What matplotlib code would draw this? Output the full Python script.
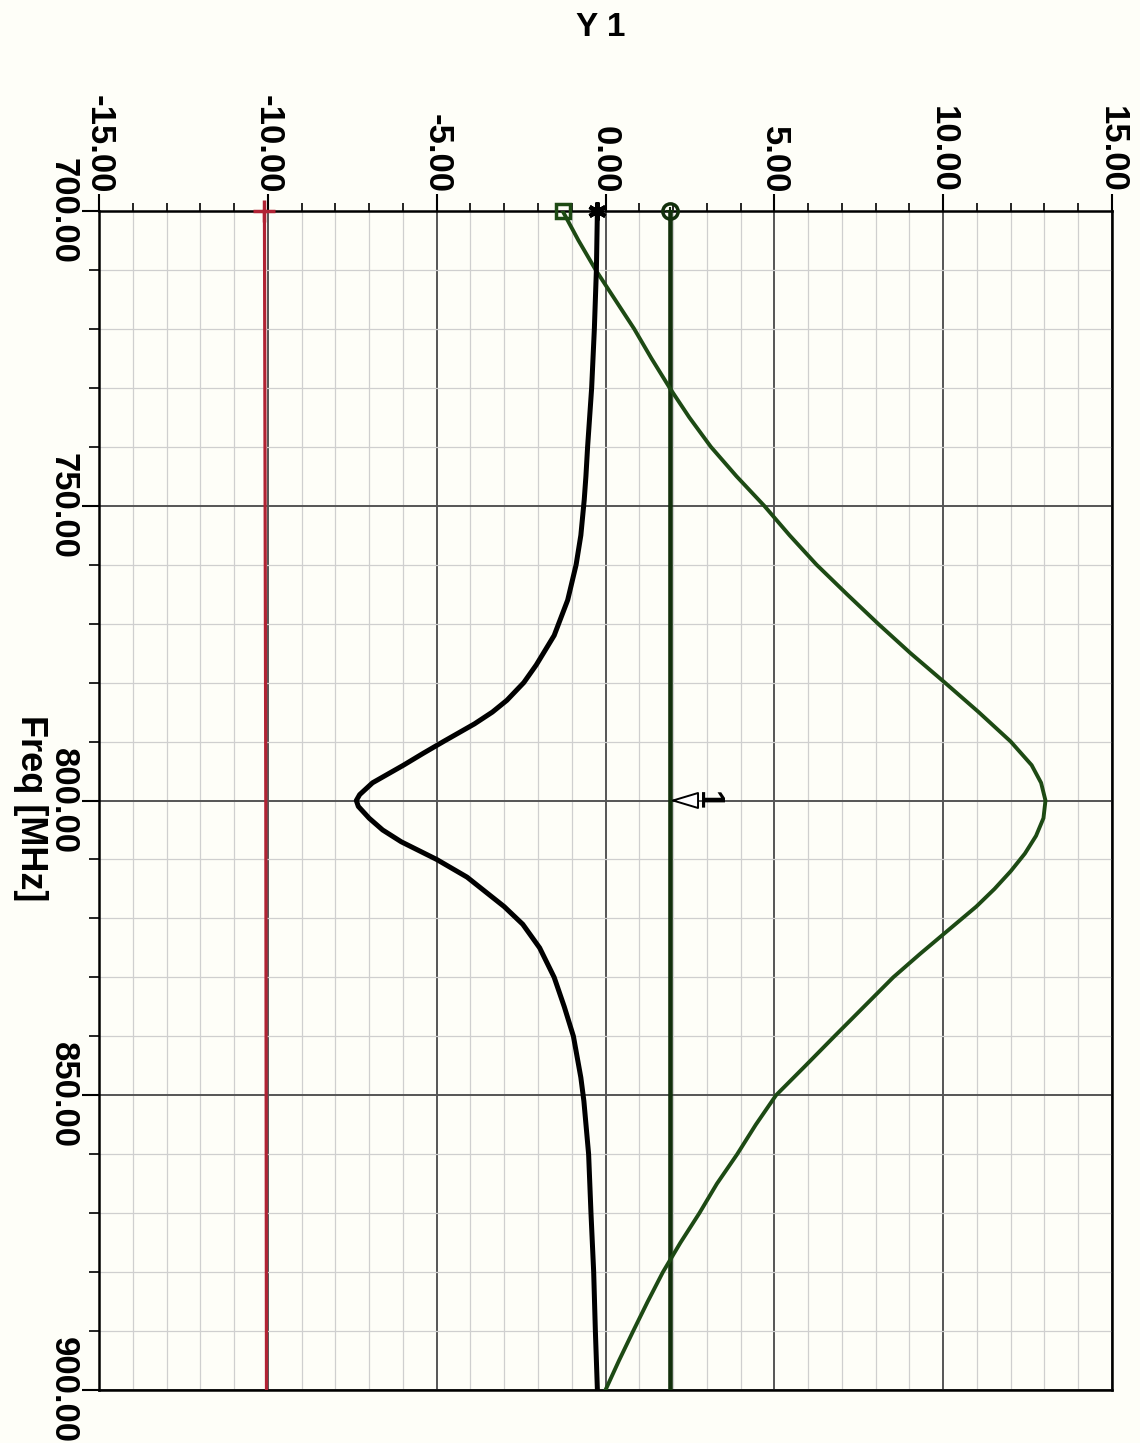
import numpy as np
import matplotlib
matplotlib.use("Agg")
import matplotlib.pyplot as plt
from matplotlib.ticker import MultipleLocator, FormatStrFormatter

# ---- data ----
freq_black = [700, 710, 720, 730, 740, 745, 749, 755, 760, 766, 772, 777, 780, 783,
              785, 787, 790, 792, 794, 797, 799, 800, 801, 803, 805, 807, 810, 813,
              818, 821, 825, 830, 835, 840, 847, 851, 860, 870, 880, 890, 900]
y_black = [-0.24, -0.27, -0.33, -0.41, -0.53, -0.58, -0.63, -0.73, -0.87, -1.12, -1.52,
           -2.05, -2.42, -2.92, -3.35, -3.88, -4.8, -5.4, -5.98, -6.9, -7.28, -7.38,
           -7.32, -7.0, -6.6, -6.05, -5.0, -4.1, -3.0, -2.45, -1.95, -1.52, -1.22,
           -0.95, -0.73, -0.64, -0.5, -0.43, -0.35, -0.3, -0.24]

freq_green = [700, 705, 710, 715, 720, 725, 730, 735, 740, 745, 750, 755, 760, 765,
              770, 775, 780, 785, 790, 794, 797, 800, 803, 806, 809, 812, 815, 818,
              822, 826, 830, 835, 840, 845, 850, 855, 860, 865, 870, 875, 880, 885,
              890, 895, 900]
y_green = [-1.27, -0.8, -0.29, 0.28, 0.85, 1.36, 1.9, 2.48, 3.12, 3.88, 4.7, 5.45,
           6.25, 7.15, 8.07, 9.03, 10.05, 11.05, 12.0, 12.62, 12.9, 13.03, 12.97, 12.75,
           12.42, 12.0, 11.52, 10.98, 10.15, 9.32, 8.52, 7.65, 6.78, 5.92, 5.05, 4.45,
           3.9, 3.3, 2.78, 2.22, 1.7, 1.25, 0.82, 0.4, 0.0]

freq_flat = [700, 750, 800, 850, 900]
y_circle = [1.9, 1.9, 1.9, 1.9, 1.9]
y_red = [-10.1, -10.08, -10.06, -10.05, -10.04]

marker_freq = 800
marker_val = 1.9

GREEN = "#1d4a14"
DKGREEN = "#12300c"
RED = "#b02334"

plt.rcParams['font.family'] = ['Liberation Sans', 'DejaVu Sans']
plt.rcParams['font.weight'] = 'bold'

fig = plt.figure(figsize=(11.4, 14.43), dpi=100)
fig.patch.set_facecolor("#fefef8")
ax = fig.add_axes([99/1140, 1-1390/1443, (1112-99)/1140, (1390-211)/1443])
ax.set_facecolor("#fefef8")

ax.plot(y_red, freq_flat, color=RED, lw=2.3, zorder=3)
ax.plot(y_circle, freq_flat, color=DKGREEN, lw=3.3, zorder=3)
ax.plot(y_green, freq_green, color=GREEN, lw=2.8, zorder=4, solid_joinstyle='round')
ax.plot(y_black, freq_black, color="black", lw=3.6, zorder=5, solid_joinstyle='round')

# start markers on the top edge
ax.plot(y_red[0], freq_flat[0], marker='+', ms=16, mew=2.5, color=RED, clip_on=False, zorder=6)
ax.plot(y_circle[0], freq_flat[0], marker='o', ms=11, mew=2.5, mfc='none', mec=DKGREEN,
        clip_on=False, zorder=6)
ax.plot(y_circle[0], freq_flat[0], marker='+', ms=6, mew=1.5, color=DKGREEN, clip_on=False, zorder=6)
ax.plot(y_green[0], freq_green[0], marker='s', ms=10, mew=2.5, mfc='none', mec=GREEN,
        clip_on=False, zorder=6)
ax.plot(y_black[0], freq_black[0], marker=(6, 2, 0), ms=13, mew=3, color="black",
        clip_on=False, zorder=6)

# marker "1": white arrow head pointing at the trace, label behind it
ax.annotate('', xy=(marker_val, marker_freq), xytext=(18, 0), textcoords='offset points',
            arrowprops=dict(arrowstyle='-|>,head_length=1.0,head_width=0.3',
                            mutation_scale=18, facecolor='white', edgecolor='black',
                            lw=1.4, shrinkA=0, shrinkB=0), zorder=7)
ax.annotate('1', xy=(marker_val, marker_freq), xytext=(16, 0), textcoords='offset points',
            rotation=-90, ha='left', va='center', fontsize=24, fontweight='bold', zorder=7)

ax.set_xlim(-15, 15)
ax.set_ylim(900, 700)
ax.xaxis.tick_top()
ax.xaxis.set_major_locator(MultipleLocator(5))
ax.xaxis.set_minor_locator(MultipleLocator(1))
ax.yaxis.set_major_locator(MultipleLocator(50))
ax.yaxis.set_minor_locator(MultipleLocator(10))
ax.xaxis.set_major_formatter(FormatStrFormatter('%.2f'))
ax.yaxis.set_major_formatter(FormatStrFormatter('%.2f'))

ax.grid(which='major', color='#555555', lw=1.4)
ax.grid(which='minor', color='#cfcfcf', lw=0.9)
ax.set_axisbelow(True)

ax.tick_params(axis='x', which='major', top=True, bottom=False, length=12, width=1.5,
               pad=1, labelsize=25, labelrotation=-90)
ax.tick_params(axis='x', which='minor', top=True, bottom=False, length=6, width=1.2)
ax.tick_params(axis='y', which='major', left=True, length=12, width=1.5, pad=2, labelsize=25)
ax.tick_params(axis='y', which='minor', left=True, length=7, width=1.2)
for lab in ax.get_yticklabels():
    lab.set_rotation(-90)
    lab.set_va('center')
for lab in ax.get_xticklabels() + ax.get_yticklabels():
    lab.set_fontweight('bold')

for s in ax.spines.values():
    s.set_linewidth(1.8)
    s.set_color('black')

fig.text(0.527, 1-28/1443, 'Y 1', ha='center', va='center', fontsize=24, fontweight='bold')
fig.text(30/1140, 1-808/1443, 'Freq [MHz]', ha='center', va='center', rotation=-90,
         fontsize=26, fontweight='bold')

fig.savefig('out.png', dpi=100, facecolor=fig.get_facecolor())
